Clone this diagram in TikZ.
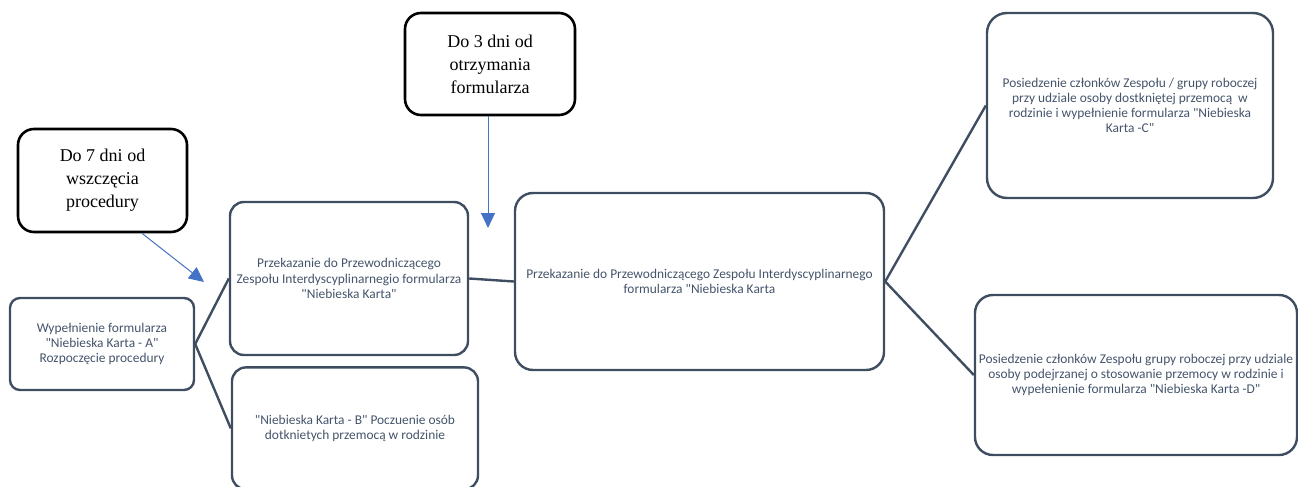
\documentclass[tikz,border=0pt]{standalone}
\usepackage{fontspec}
\setmainfont{Liberation Serif}
\newfontfamily\calibri{Carlito}
\usepackage{tikz}
\usetikzlibrary{arrows.meta,positioning,calc}
\definecolor{slate}{HTML}{3F4D60}
\definecolor{slatetext}{HTML}{44546A}
\definecolor{arrblue}{HTML}{4472C4}

\begin{document}
\begin{tikzpicture}[x=1pt, y=-1pt, >=Latex]
\tikzstyle{box}=[draw=slate, line width=2.4pt, rounded corners=14pt, inner sep=0pt, align=center, text=slatetext, font=\calibri\fontsize{13.4}{15.2}\selectfont]
\tikzstyle{note}=[draw=black, line width=2.6pt, rounded corners=16pt, inner sep=0pt, align=center, font=\fontsize{18}{23}\selectfont]
\tikzstyle{link}=[draw=slate, line width=2.4pt]
\tikzstyle{arr}=[-{Triangle[length=15pt,width=14pt]}, arrblue, line width=1pt]

\useasboundingbox (0,0) rectangle (1298,487);

% boxes of the procedure
\node[box, rounded corners=10pt, minimum width=184pt, minimum height=92pt] (A) at (102,344)
  {Wypełnienie formularza\\"Niebieska Karta - A"\\Rozpoczęcie procedury};
\node[box, minimum width=238pt, minimum height=153pt] (B1) at (349,278.5)
  {Przekazanie do Przewodniczącego\\Zespołu Interdyscyplinarnegio formularza\\"Niebieska Karta"};
\node[box, minimum width=246pt, minimum height=122pt, below=10pt of B1, xshift=6pt] (B2)
  {"Niebieska Karta - B" Poczuenie osób\\dotknietych przemocą w rodzinie};
\node[box, rounded corners=18pt, minimum width=369pt, minimum height=177pt] (C) at (699.5,281.5)
  {Przekazanie do Przewodniczącego Zespołu Interdyscyplinarnego\\formularza "Niebieska Karta};
\node[box, rounded corners=20pt, minimum width=286pt, minimum height=185pt] (D) at (1130,105.5)
  {Posiedzenie członków Zespołu / grupy roboczej\\przy udziale osoby dostkniętej przemocą\ \ w\\rodzinie i wypełnienie formularza "Niebieska\\Karta -C"};
\node[box, rounded corners=18pt, minimum width=322pt, minimum height=160pt] (E) at (1136,375)
  {Posiedzenie członków Zespołu grupy roboczej przy udziale\\osoby podejrzanej o stosowanie przemocy w rodzinie i\\wypełenienie formularza "Niebieska Karta -D"};

% time limits
\node[note, minimum width=169pt, minimum height=103pt] (d7) at (102.5,180.5)
  {Do 7 dni od\\wszczęcia\\procedury};
\node[note, minimum width=170pt, minimum height=102pt] (d3) at (490,64)
  {Do 3 dni od\\otrzymania\\formularza};

\draw[link] (A.east) -- (B1.west);
\draw[link] (A.east) -- (B2.west);
\draw[link] (B1.east) -- (C.west);
\draw[link] (C.east) -- (D.west);
\draw[link] (C.east) -- (E.west);

\coordinate (t7) at (204,282);
\coordinate (t3) at (488,228);
\draw[arr] ($(d7.south west)!0.73!(d7.south east)$) -- (t7);
\draw[arr] (d3.south -| t3) -- (t3);

\end{tikzpicture}
\end{document}
